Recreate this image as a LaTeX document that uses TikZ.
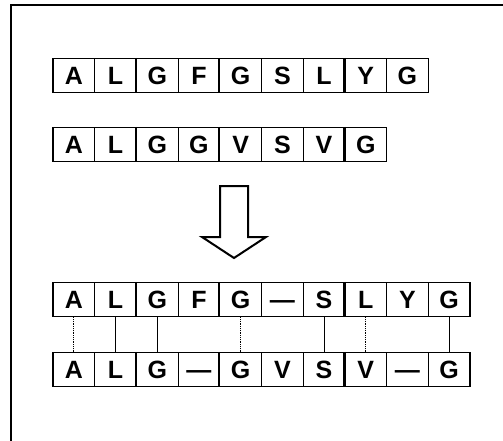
\documentclass[tikz,border=0pt]{standalone}
\usepackage{fontspec}
\setmainfont{Liberation Sans}

\begin{document}
\begin{tikzpicture}[x=1pt, y=-1pt,
  cell/.style={draw, line width=1.2pt, minimum width=41.7pt, minimum height=34pt,
    inner sep=0pt, text height=18pt, text depth=0pt,
    font=\fontsize{25}{28}\selectfont\bfseries},
  thicksep/.style={line width=2.4pt},
  link/.style={line width=0.6pt},
  linkdot/.style={line width=0.8pt, densely dotted}]
\useasboundingbox (0,0) rectangle (503,441);
% page frame (cut at right and bottom)
\draw[line width=1.6pt] (11,441) -- (11,5) -- (503,5);
\def\X{53} \def\W{41.7}
% the two input sequences
\foreach \a [count=\i from 0] in {A,L,G,F,G,S,L,Y,G}
  \node[cell] (p\i) at ({\X+\W*(\i+0.5)}, 75.5) {\a};
\foreach \a [count=\i from 0] in {A,L,G,G,V,S,V,G}
  \node[cell] (q\i) at ({\X+\W*(\i+0.5)}, 144.5) {\a};
% hollow block arrow
\draw[line width=2pt, line join=miter] (220,186) -- (248,186) -- (248,237) -- (266,237)
  -- (234,258) -- (202,237) -- (220,237) -- cycle;
% aligned result
\foreach \a [count=\i from 0] in {A,L,G,F,G,—,S,L,Y,G}
  \node[cell] (s\i) at ({\X+\W*(\i+0.5)}, 299.5) {\a};
\foreach \a [count=\i from 0] in {A,L,G,—,G,V,S,V,—,G}
  \node[cell] (t\i) at ({\X+\W*(\i+0.5)}, 369.5) {\a};
% heavier borders between groups
\foreach \r/\n in {p/2,p/4,p/7,q/2,q/4,q/7,s/2,s/4,s/7,t/2,t/4,t/7}
  \draw[thicksep] (\r\n.north west) -- (\r\n.south west);
% matches between the two rows
\foreach \i in {0,4,7}
  \draw[linkdot] (s\i.south) -- (t\i.north);
\foreach \i in {1,2,6,9}
  \draw[link] (s\i.south) -- (t\i.north);
\end{tikzpicture}
\end{document}
